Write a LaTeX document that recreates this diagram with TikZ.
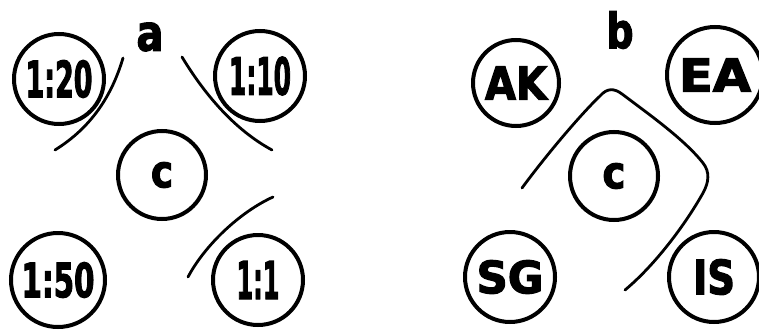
\documentclass[tikz,border=0pt]{standalone}
\usepackage{fontspec}
\setmainfont{DejaVu Sans Condensed}
\newfontfamily\heavy[RawFeature={embolden=2.5}]{DejaVu Sans Condensed Bold}
\usepackage{graphicx}
\newcommand{\lbltxt}[3]{\resizebox{#1pt}{#2pt}{\heavy #3}}
\begin{document}
\begin{tikzpicture}[x=1pt,y=-1pt,
  ring/.style={circle,draw,line width=4pt,minimum size=#1pt,inner sep=0pt},
  ring/.default=90,
  arcline/.style={line width=2.8pt,line cap=round}]
\useasboundingbox (0,0) rectangle (759,329);
% panel a
\node[ring] (n20) at (59,79) {\lbltxt{67}{37}{1:20}};
\node[ring] (n10) at (260,76) {\lbltxt{62}{38}{1:10}};
\node[ring=88] (ca) at (162,175) {\lbltxt{22}{25}{c}};
\node[ring=94] (n50) at (58,280) {\lbltxt{73}{35}{1:50}};
\node[ring] (n1) at (258,280) {\lbltxt{43}{38}{1:1}};
\node (la) at (150,37) {\lbltxt{27}{28}{a}};
\coordinate (a1s) at (123,58);
\coordinate (a1e) at (55,150);
\draw[arcline] (a1s) .. controls (112,95) and (92,127) .. (a1e);
\coordinate (a2s) at (182,57);
\coordinate (a2e) at (272,150);
\draw[arcline] (a2s) .. controls (205,95) and (235,130) .. (a2e);
\coordinate (a3s) at (273,197);
\coordinate (a3e) at (188,277);
\draw[arcline] (a3s) .. controls (240,212) and (205,245) .. (a3e);
% panel b
\node[ring=86] (ak) at (516,83) {\lbltxt{62}{33}{AK}};
\node[ring=96] (ea) at (715,75) {\lbltxt{72}{33}{EA}};
\node[ring=88] (cb) at (614,176) {\lbltxt{23}{25}{c}};
\node[ring] (sg) at (510,277) {\lbltxt{67}{33}{SG}};
\node[ring] (is) at (714,277) {\lbltxt{42}{35}{IS}};
\node (lb) at (620,30) {\lbltxt{27}{37}{b}};
\coordinate (bs) at (522,188);
\coordinate (be) at (625,290);
\draw[arcline] (bs) .. controls (550,150) and (585,110) .. (600,96)
  .. controls (607,88) and (614,88) .. (622,94)
  .. controls (650,115) and (685,140) .. (703,163)
  .. controls (710,172) and (709,182) .. (703,193)
  .. controls (685,225) and (655,265) .. (be);
\end{tikzpicture}
\end{document}
